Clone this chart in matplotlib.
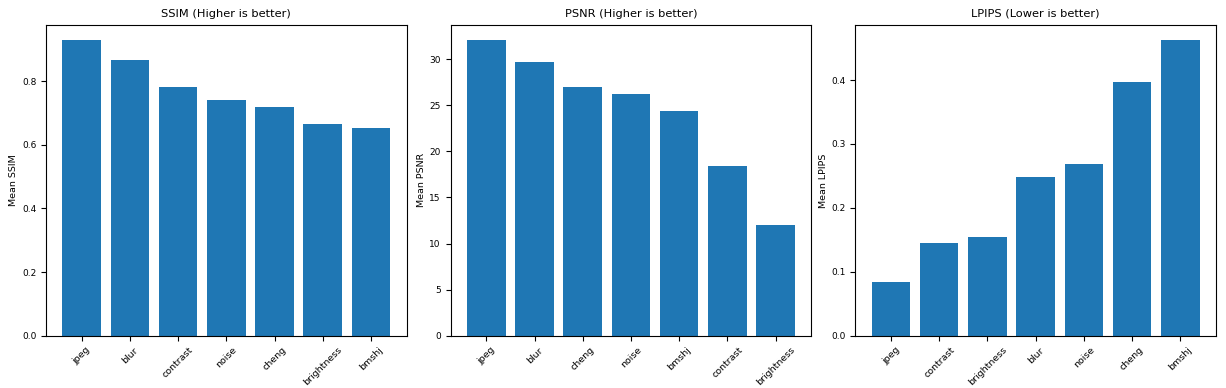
import numpy as np
import matplotlib
matplotlib.use("Agg")
import matplotlib.pyplot as plt

ssim_labels = ["jpeg", "blur", "contrast", "noise", "cheng", "brightness", "bmshj"]
ssim_vals = [0.930, 0.867, 0.782, 0.740, 0.719, 0.666, 0.652]

psnr_labels = ["jpeg", "blur", "cheng", "noise", "bmshj", "contrast", "brightness"]
psnr_vals = [32.1, 29.71, 26.93, 26.24, 24.39, 18.42, 11.98]

lpips_labels = ["jpeg", "contrast", "brightness", "blur", "noise", "cheng", "bmshj"]
lpips_vals = [0.0836, 0.1446, 0.154, 0.248, 0.268, 0.397, 0.463]

plt.rcParams["font.size"] = 6.8

fig, axes = plt.subplots(1, 3, figsize=(12.26, 3.88), dpi=100)
fig.subplots_adjust(left=0.0375, right=0.9918, top=0.9356, bottom=0.1348, wspace=0.122)

panels = [
    (ssim_labels, ssim_vals, "SSIM (Higher is better)", "Mean SSIM"),
    (psnr_labels, psnr_vals, "PSNR (Higher is better)", "Mean PSNR"),
    (lpips_labels, lpips_vals, "LPIPS (Lower is better)", "Mean LPIPS"),
]

for ax, (labels, vals, title, ylab) in zip(axes, panels):
    ax.bar(labels, vals, color="#1f77b4")
    ax.set_title(title, fontsize=8.2)
    ax.set_ylabel(ylab, labelpad=2.5)
    ax.tick_params(axis="x", labelrotation=45)
    ax.tick_params(axis="y", labelsize=6.5)

fig.savefig("out.png", dpi=100)
